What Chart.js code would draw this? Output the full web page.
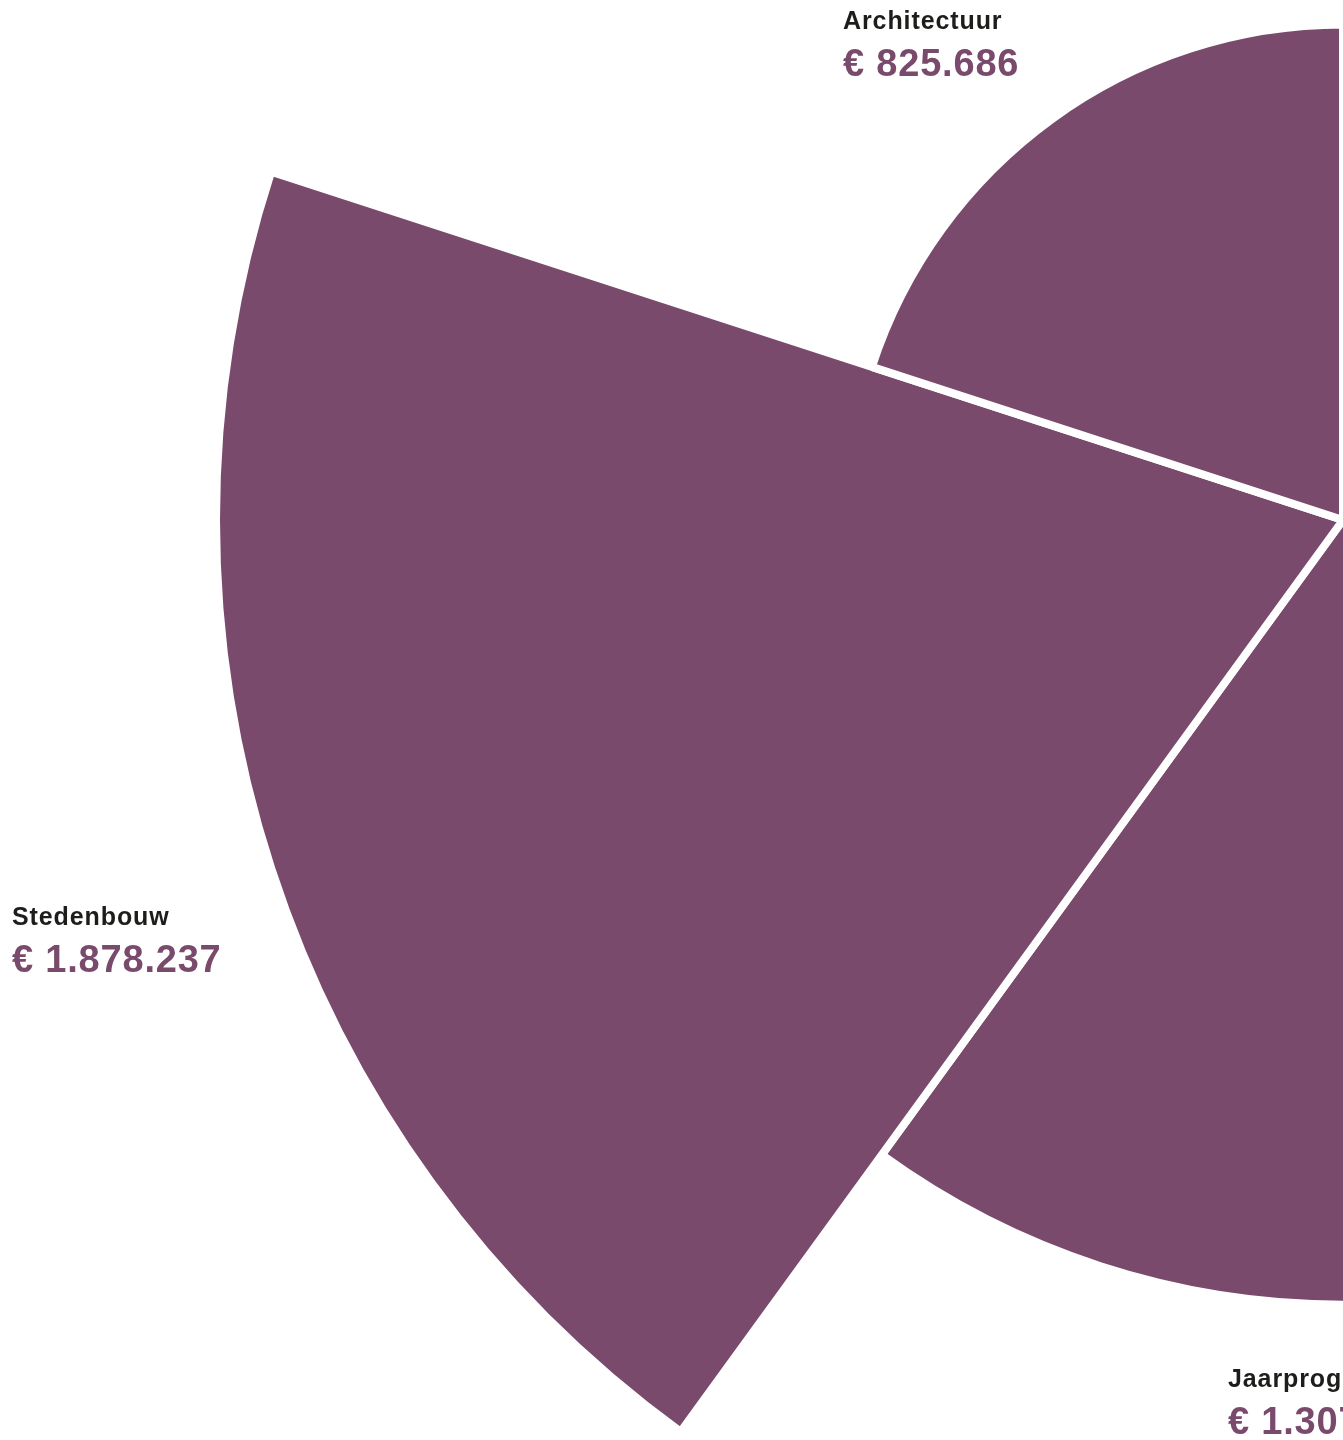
<!DOCTYPE html>
<html>
<head>
<meta charset="utf-8">
<script src="https://cdn.jsdelivr.net/npm/chart.js@4.4.1/dist/chart.umd.min.js"></script>
<style>
  html, body { margin: 0; padding: 0; background: #ffffff; width: 1343px; height: 1440px; overflow: hidden; }
  #wrap { position: absolute; left: 0; top: -607px; width: 2686px; height: 2254px; }
  #chart { display: block; }
  .lbl { position: absolute; white-space: nowrap; font-family: "Liberation Sans", Arial, sans-serif; font-weight: 700; line-height: 1; }
  .lbl .name { color: #1d1d1b; font-size: 25px; letter-spacing: 0.9px; }
  .lbl .amount { color: #7a4a6c; font-size: 38px; letter-spacing: 0.8px; margin-top: 11px; }
</style>
</head>
<body>
<div id="wrap"><canvas id="chart" width="2686" height="2254"></canvas></div>
<div id="labels"></div>
<script>
// ---- data ----
const categories = ['Jaarprogramma', 'Stedenbouw', 'Architectuur'];
const amounts = [1307812, 1878237, 825686];
// each slice covers a fifth of the circle (two further slices lie outside the visible frame)
const sliceAngle = 360 / 5;

// ---- layout / style ----
const purple = '#7a4a6c';
const labelPos = [ // page coordinates of the label blocks (left, top)
  { left: 1228, top: 1366 },
  { left: 12, top: 904 },
  { left: 843, top: 8 }
];

const fmt = new Intl.NumberFormat('nl-NL', { maximumFractionDigits: 0 });

new Chart(document.getElementById('chart'), {
  type: 'polarArea',
  data: {
    labels: categories,
    datasets: [{
      data: amounts,
      backgroundColor: purple,
      hoverBackgroundColor: purple,
      borderColor: '#ffffff',
      hoverBorderColor: '#ffffff',
      borderWidth: 8,
      angle: sliceAngle
    }]
  },
  options: {
    responsive: false,
    devicePixelRatio: 1,
    animation: false,
    events: [],
    layout: { padding: 0 },
    plugins: { legend: { display: false }, tooltip: { enabled: false } },
    scales: {
      r: {
        display: false,
        min: 0,
        max: Math.max(...amounts),
        startAngle: 144,
        ticks: { display: false },
        grid: { display: false },
        angleLines: { display: false },
        pointLabels: { display: false }
      }
    }
  }
});

const holder = document.getElementById('labels');
categories.forEach((c, i) => {
  const d = document.createElement('div');
  d.className = 'lbl';
  d.style.left = labelPos[i].left + 'px';
  d.style.top = labelPos[i].top + 'px';
  d.innerHTML = '<div class="name"></div><div class="amount"></div>';
  d.querySelector('.name').textContent = c;
  d.querySelector('.amount').textContent = '€ ' + fmt.format(amounts[i]);
  holder.appendChild(d);
});
</script>
</body>
</html>
